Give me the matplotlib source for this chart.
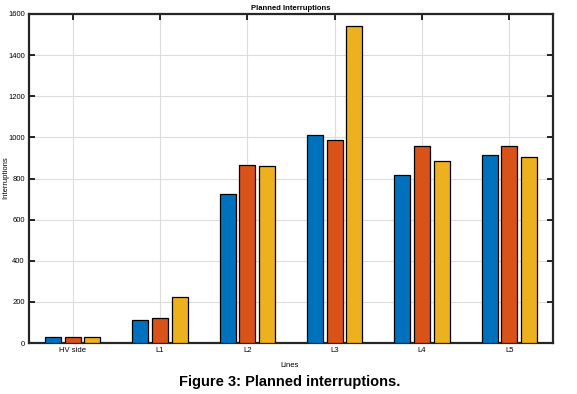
import matplotlib
matplotlib.use("Agg")
import matplotlib.pyplot as plt
import numpy as np

plt.rcParams['font.family'] = ['Liberation Sans', 'DejaVu Sans']

categories = ["HV side", "L1", "L2", "L3", "L4", "L5"]
series1 = [28, 110, 723, 1011, 817, 914]
series2 = [29, 122, 866, 988, 957, 960]
series3 = [27, 225, 861, 1542, 887, 906]
colors = ["#0072BD", "#D95319", "#EDB120"]
yticks = [0, 200, 400, 600, 800, 1000, 1200, 1400, 1600]

fig = plt.figure(figsize=(5.77, 3.94), dpi=100)
ax = fig.add_axes([29/577, 1-343/394, (553-29)/577, (343-14)/394])

x = np.arange(1, len(categories)+1)
off = 0.224
w = 0.184
for i, (s, c) in enumerate(zip([series1, series2, series3], colors)):
    ax.bar(x + (i-1)*off, s, width=w, color=c, edgecolor="black", linewidth=0.9, zorder=3)

ax.set_xlim(0.5, 6.5)
ax.set_ylim(0, 1600)
ax.set_xticks(x)
ax.set_xticklabels(categories)
ax.set_yticks(yticks)
ax.grid(True, color="#dcdcdc", linewidth=0.8, zorder=0)
ax.set_axisbelow(True)
ax.tick_params(direction="in", length=4, width=1.2, labelsize=5.5, top=True, right=True, pad=3)
for sp in ax.spines.values():
    sp.set_linewidth(1.6)
    sp.set_color("#262626")
ax.set_title("Planned Interruptions", fontsize=5.5, fontweight="bold", pad=3)
ax.set_xlabel("Lines", fontsize=5.5)
ax.xaxis.set_label_coords((290-29)/(553-29), -0.058)
ax.set_ylabel("Interruptions", fontsize=5.5, va="center")
ax.yaxis.set_label_coords((6-29)/(553-29), (343-178)/(343-14))
fig.text(290/577, 1-382/394, "Figure 3: Planned interruptions.", fontsize=10.5,
         fontweight="bold", ha="center", va="center")
fig.savefig("out.png", dpi=100)
